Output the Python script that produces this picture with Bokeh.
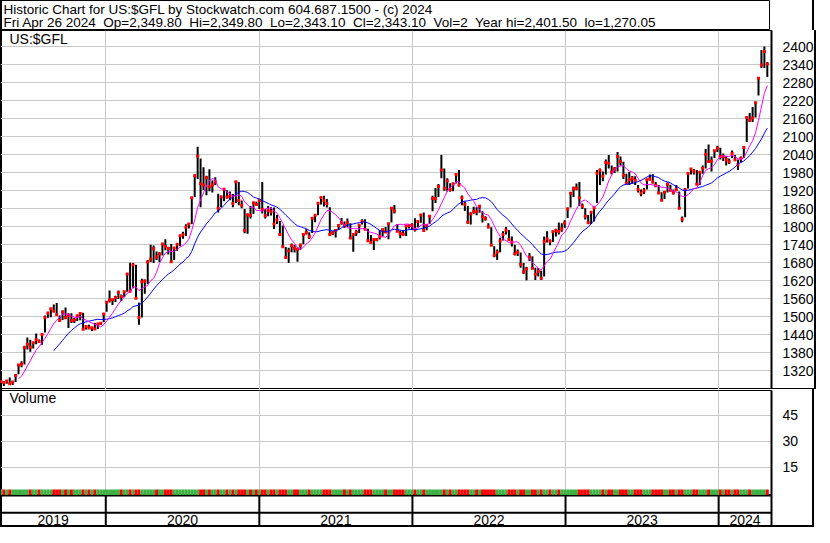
import pandas as pd
from bokeh.plotting import figure
from bokeh.layouts import column
from bokeh.models import Range1d, FixedTicker, Label, Span
from bokeh.embed import file_html
from bokeh.resources import INLINE
from bokeh.core.properties import value

# ---------------- data ----------------
symbol = "US:$GFL"
title_line1 = "Historic Chart for US:$GFL by Stockwatch.com 604.687.1500 - (c) 2024"
title_line2 = ("Fri Apr 26 2024\u00a0 Op=2,349.80\u00a0 Hi=2,349.80\u00a0 Lo=2,343.10\u00a0 "
               "Cl=2,343.10\u00a0 Vol=2\u00a0 Year hi=2,401.50\u00a0 lo=1,270.05")
volume_title = "Volume"
first_week = "2019-04-26"          # weekly bars (Fridays)
view_start = "2019-04-25"
view_end = "2024-05-06"
years = [2019, 2020, 2021, 2022, 2023, 2024]
price_ticks = [1320, 1380, 1440, 1500, 1560, 1620, 1680, 1740, 1800, 1860,
               1920, 1980, 2040, 2100, 2160, 2220, 2280, 2340, 2400]
volume_ticks = [15, 30, 45]

close_2019 = [1285, 1281, 1286, 1277, 1283, 1305, 1340, 1342, 1397, 1409, 1399, 1414,
              1425, 1418, 1441, 1497, 1513, 1527, 1520, 1507, 1488, 1516, 1497, 1505,
              1488, 1490, 1504, 1511, 1459, 1468, 1463, 1464, 1460, 1476, 1479, 1510]
high_2019 = [1286, 1286, 1290, 1298, 1286, 1306, 1342, 1352, 1404, 1431, 1424, 1416,
             1445, 1425, 1443, 1505, 1515, 1530, 1541, 1546, 1505, 1521, 1531, 1512,
             1512, 1497, 1506, 1513, 1514, 1472, 1474, 1465, 1480, 1477, 1481, 1511]
low_2019 = [1271, 1270, 1277, 1276, 1273, 1283, 1309, 1332, 1341, 1391, 1384, 1395,
            1409, 1414, 1407, 1448, 1497, 1499, 1515, 1506, 1488, 1490, 1493, 1463,
            1480, 1480, 1486, 1489, 1459, 1458, 1463, 1453, 1460, 1460, 1473, 1482]

close_2020 = [1549, 1556, 1557, 1565, 1582, 1568, 1584, 1643, 1586, 1673, 1562, 1498, 1617,
              1620, 1683, 1693, 1727, 1700, 1710, 1743, 1735, 1728, 1684, 1730, 1742, 1771,
              1774, 1799, 1810, 1897, 1971, 2036, 1944, 1940, 1964, 1934, 1940, 1950, 1862,
              1900, 1926, 1900, 1902, 1878, 1951, 1888, 1872, 1788, 1840, 1839, 1881, 1875]
high_2020 = [1552, 1588, 1560, 1571, 1587, 1575, 1585, 1644, 1681, 1680, 1674, 1547, 1627,
             1625, 1690, 1741, 1738, 1718, 1716, 1744, 1759, 1734, 1743, 1731, 1746, 1771,
             1784, 1809, 1813, 1899, 1975, 2067, 2028, 1999, 1971, 1992, 1955, 1966, 1911,
             1905, 1926, 1922, 1918, 1910, 1951, 1950, 1888, 1860, 1845, 1870, 1881, 1884]
low_2020 = [1517, 1548, 1540, 1550, 1560, 1553, 1566, 1584, 1586, 1596, 1562, 1474, 1498,
            1577, 1610, 1683, 1680, 1690, 1683, 1705, 1722, 1708, 1684, 1690, 1720, 1736,
            1761, 1770, 1795, 1810, 1900, 1960, 1866, 1923, 1906, 1919, 1915, 1940, 1848,
            1866, 1886, 1895, 1889, 1866, 1880, 1872, 1862, 1779, 1777, 1828, 1843, 1870]

close_2021 = [1888, 1858, 1837, 1856, 1851, 1810, 1823, 1775, 1734, 1698, 1720, 1738, 1729,
              1726, 1739, 1775, 1781, 1768, 1829, 1839, 1879, 1898, 1887, 1878, 1775, 1781,
              1788, 1805, 1815, 1804, 1814, 1763, 1775, 1782, 1806, 1818, 1792, 1754, 1748,
              1758, 1758, 1768, 1791, 1783, 1811, 1862, 1853, 1786, 1778, 1776, 1803, 1805, 1806]
high_2021 = [1891, 1950, 1860, 1870, 1866, 1865, 1840, 1820, 1805, 1733, 1731, 1745, 1741,
             1731, 1745, 1780, 1792, 1782, 1833, 1840, 1880, 1902, 1904, 1893, 1866, 1786,
             1791, 1808, 1830, 1818, 1828, 1812, 1775, 1790, 1808, 1826, 1826, 1794, 1773,
             1762, 1763, 1790, 1795, 1800, 1811, 1864, 1873, 1810, 1788, 1788, 1803, 1808, 1812]
low_2021 = [1860, 1845, 1828, 1836, 1838, 1793, 1810, 1770, 1730, 1698, 1680, 1716, 1715,
            1684, 1724, 1742, 1775, 1760, 1780, 1816, 1839, 1875, 1868, 1865, 1773, 1773,
            1765, 1790, 1807, 1797, 1800, 1760, 1717, 1770, 1780, 1808, 1792, 1754, 1745,
            1723, 1752, 1758, 1768, 1780, 1759, 1815, 1845, 1786, 1762, 1771, 1770, 1795, 1790]

close_2022 = [1792, 1818, 1840, 1788, 1805, 1836, 1895, 1895, 1935, 1990, 1929, 1954, 1925,
              1943, 1975, 1940, 1897, 1876, 1816, 1843, 1852, 1851, 1869, 1834, 1828, 1801,
              1739, 1706, 1716, 1753, 1775, 1789, 1758, 1749, 1711, 1716, 1675, 1650, 1660,
              1699, 1662, 1642, 1652, 1629, 1751, 1760, 1752, 1784, 1788, 1785, 1794, 1813]
high_2022 = [1829, 1822, 1843, 1848, 1808, 1840, 1904, 1930, 1943, 2040, 1995, 1962, 1946,
             1948, 1980, 1990, 1905, 1885, 1870, 1849, 1867, 1866, 1869, 1852, 1836, 1812,
             1799, 1736, 1725, 1764, 1786, 1800, 1790, 1768, 1741, 1725, 1715, 1680, 1667,
             1713, 1702, 1664, 1663, 1654, 1768, 1786, 1758, 1787, 1794, 1815, 1812, 1822]
low_2022 = [1785, 1799, 1814, 1788, 1789, 1810, 1852, 1880, 1900, 1962, 1921, 1918, 1917,
            1919, 1945, 1935, 1872, 1853, 1811, 1808, 1844, 1839, 1847, 1815, 1821, 1795,
            1739, 1699, 1690, 1716, 1755, 1775, 1758, 1735, 1705, 1703, 1664, 1643, 1622,
            1686, 1662, 1623, 1635, 1623, 1635, 1748, 1739, 1750, 1768, 1775, 1784, 1797]

close_2023 = [1860, 1912, 1927, 1929, 1897, 1869, 1836, 1814, 1849, 1863, 1979, 1989, 1969,
              2015, 2012, 1983, 1993, 2035, 2018, 1972, 1946, 1957, 1962, 1955, 1925, 1913,
              1921, 1957, 1960, 1950, 1938, 1913, 1889, 1916, 1942, 1922, 1914, 1925, 1862,
              1826, 1924, 1978, 1993, 1986, 1942, 1982, 1996, 2042, 2018, 2020, 2054, 2062]
high_2023 = [1865, 1915, 1935, 1945, 1950, 1878, 1862, 1840, 1852, 1868, 1990, 1995, 1985,
             2025, 2040, 2005, 2000, 2050, 2035, 2017, 1977, 1983, 1970, 1969, 1940, 1925,
             1930, 1961, 1975, 1976, 1950, 1940, 1916, 1918, 1948, 1941, 1925, 1940, 1918,
             1835, 1930, 1980, 1995, 1993, 1990, 1985, 2005, 2060, 2075, 2035, 2054, 2071]
low_2023 = [1830, 1865, 1900, 1922, 1870, 1860, 1825, 1810, 1810, 1818, 1880, 1940, 1952,
            1975, 1995, 1975, 1980, 1985, 2005, 1960, 1942, 1940, 1945, 1940, 1915, 1902,
            1910, 1925, 1955, 1945, 1932, 1912, 1889, 1893, 1915, 1918, 1908, 1920, 1859,
            1816, 1832, 1928, 1975, 1975, 1942, 1940, 1977, 1995, 2015, 1985, 2030, 2050]

close_2024 = [2035, 2035, 2024, 2017, 2045, 2024, 2007, 2029, 2065, 2165, 2156, 2163, 2214,
              2296, 2340, 2385, 2343]
high_2024 = [2064, 2045, 2036, 2028, 2055, 2040, 2025, 2035, 2065, 2170, 2180, 2200, 2214,
             2296, 2390, 2401.5, 2350]
low_2024 = [2025, 2020, 2005, 2010, 2030, 2020, 1990, 2015, 2030, 2083, 2150, 2150, 2165,
            2238, 2330, 2330, 2300]

volume = [2, 2, 2, 2, 2, 2, 2, 2, 2, 2, 2, 2, 2, 2, 2, 2, 2, 2, 2, 2, 2, 2, 2, 2, 2, 2,
          2, 2, 2, 2, 2, 2, 2, 2, 2, 2, 2, 2, 2, 2, 2, 2, 2, 2, 2, 2, 2, 2, 2, 2, 2, 2,
          2, 2, 2, 2, 2, 2, 2, 2, 2, 2, 2, 2, 2, 2, 2, 2, 2, 2, 2, 2, 2, 2, 2, 2, 2, 2,
          2, 2, 2, 2, 2, 2, 2, 2, 2, 2, 2, 2, 2, 2, 2, 2, 2, 2, 2, 2, 2, 2, 2, 2, 2, 2,
          2, 2, 2, 2, 2, 2, 2, 2, 2, 2, 2, 2, 2, 2, 2, 2, 2, 2, 2, 2, 2, 2, 2, 2, 2, 2,
          2, 2, 2, 2, 2, 2, 2, 2, 2, 2, 2, 2, 2, 2, 2, 2, 2, 2, 2, 2, 2, 2, 2, 2, 2, 2,
          2, 2, 2, 2, 2, 2, 2, 2, 2, 2, 2, 2, 2, 2, 2, 2, 2, 2, 2, 2, 2, 2, 2, 2, 2, 2,
          2, 2, 2, 2, 2, 2, 2, 2, 2, 2, 2, 2, 2, 2, 2, 2, 2, 2, 2, 2, 2, 2, 2, 2, 2, 2,
          2, 2, 2, 2, 2, 2, 2, 2, 2, 2, 2, 2, 2, 2, 2, 2, 2, 2, 2, 2, 2, 2, 2, 2, 2, 2,
          2, 2, 2, 2, 2, 2, 2, 2, 2, 2, 2, 2, 2, 2, 2, 2, 2, 2, 2, 2, 2, 2, 2, 2, 2, 2,
          2, 2]

ma_fast_weeks = 7
ma_slow_weeks = 19

# ---------------- assemble ----------------
close = close_2019 + close_2020 + close_2021 + close_2022 + close_2023 + close_2024
high = high_2019 + high_2020 + high_2021 + high_2022 + high_2023 + high_2024
low = low_2019 + low_2020 + low_2021 + low_2022 + low_2023 + low_2024
dates = pd.date_range(first_week, periods=len(close), freq="W-FRI")
ma_fast = pd.Series(close).rolling(ma_fast_weeks).mean()
ma_slow = pd.Series(close).rolling(ma_slow_weeks).mean()
vol_colors = ["#3cb043" if i == 0 or close[i] >= close[i - 1] else "#ff0000"
              for i in range(len(close))]

FONT = "Liberation Sans"
FS = "14px"
W = 814
FRAME_W = 771
RIGHT_W = W - FRAME_W
GRID = "#c8c8c8"
WEEK_MS = 7 * 24 * 3600 * 1000

vs = pd.Timestamp(view_start)
ve = pd.Timestamp(view_end)
year_starts = [pd.Timestamp(f"{y}-01-01") for y in years[1:]]
year_starts_ms = [t.value // 10**6 for t in year_starts]
year_centers = []
for y in years:
    a = max(vs, pd.Timestamp(f"{y}-01-01"))
    b = min(ve, pd.Timestamp(f"{y + 1}-01-01"))
    year_centers.append(a + (b - a) / 2)

xr = Range1d(start=vs, end=ve)


def base(shadow, **kw):
    f = figure(toolbar_location=None, output_backend="svg", title=None,
               styles={"box-shadow": shadow, "background-color": "white"}, **kw)
    f.min_border_left = 0
    f.min_border_bottom = 0
    f.background_fill_color = None
    f.border_fill_color = None
    return f


def style_right_axis(f, ticks):
    f.yaxis.ticker = FixedTicker(ticks=ticks)
    f.yaxis.major_label_text_font = FONT
    f.yaxis.major_label_text_font_size = FS
    f.yaxis.major_label_text_color = "black"
    f.yaxis.major_tick_line_color = None
    f.yaxis.minor_tick_line_color = None
    f.yaxis.major_label_standoff = 5
    f.yaxis.axis_line_color = "black"
    f.yaxis.axis_line_width = 2
    f.ygrid.ticker = FixedTicker(ticks=ticks)
    f.ygrid.grid_line_color = GRID
    f.xgrid.ticker = FixedTicker(ticks=year_starts_ms)
    f.xgrid.grid_line_color = GRID


SIDES = "inset 2px 0 0 0 black, inset -2px 0 0 0 black"

# header
hdr = base(SIDES, width=W, height=30, x_range=(0, 1), y_range=(0, 1),
           x_axis_location=None, y_axis_location=None, min_border=0)
hdr.grid.visible = False
hdr.outline_line_color = "black"
hdr.outline_line_width = 1
hdr.add_layout(Label(x=3, y=21.5, x_units="screen", y_units="screen", text=title_line1,
                     text_baseline="middle", text_font=FONT, text_font_size="13.5px",
                     text_color="black"))
hdr.add_layout(Label(x=3, y=8.5, x_units="screen", y_units="screen", text=title_line2,
                     text_baseline="middle", text_font=FONT, text_font_size="13.5px",
                     text_color="black"))

# price panel
p = base(SIDES + ", inset 0 -1px 0 0 black",
         frame_width=FRAME_W, frame_height=359, x_range=xr, x_axis_type="datetime",
         y_range=Range1d(1258, 2455), x_axis_location=None, y_axis_location="right",
         min_border_right=RIGHT_W, min_border_top=0)
p.outline_line_color = "black"
p.outline_line_width = 1
style_right_axis(p, price_ticks)

p.segment(x0=dates, y0=low, x1=dates, y1=high, line_color="black", line_width=2)
p.scatter(x=dates, y=close, marker="square", size=3, fill_color="#ff0000",
          line_color=None)
p.line(x=dates, y=ma_slow, line_color="#0000ff", line_width=1)
p.line(x=dates, y=ma_fast, line_color="#ff00ff", line_width=1)
p.add_layout(Label(x=9, y=343, x_units="screen", y_units="screen", text=symbol,
                   text_font=FONT, text_font_size=FS, text_color="black"))

# volume panel
v = base(SIDES, frame_width=FRAME_W, frame_height=105, x_range=xr, x_axis_type="datetime",
         y_range=Range1d(-1.5, 59.5), x_axis_location=None, y_axis_location="right",
         min_border_right=RIGHT_W, min_border_top=1)
v.outline_line_color = "black"
v.outline_line_width = 1
style_right_axis(v, volume_ticks)
v.vbar(x=dates, top=volume, bottom=v.y_range.start, width=WEEK_MS,
       fill_color=vol_colors, line_color=None)
v.add_layout(Label(x=9, y=90, x_units="screen", y_units="screen", text=volume_title,
                   text_font=FONT, text_font_size=FS, text_color="black"))

# date band
b = base(SIDES + ", inset 0 -2px 0 0 black",
         frame_width=FRAME_W, frame_height=32, x_range=xr, x_axis_type="datetime",
         y_range=Range1d(0, 2), x_axis_location=None, y_axis_location=None,
         min_border_right=RIGHT_W, min_border_top=0)
b.grid.visible = False
b.outline_line_color = "black"
b.outline_line_width = 2
b.segment(x0=year_starts, y0=b.y_range.start, x1=year_starts, y1=b.y_range.end,
          line_color="black", line_width=2)
b.add_layout(Span(location=0.92, dimension="width", line_color="black", line_width=2))
b.text(x=year_centers, y=[0.45] * len(years), text=[str(y) for y in years],
       text_align="center", text_baseline="middle", text_font=value(FONT),
       text_font_size=FS, text_color="black")

layout = column(hdr, p, v, b, spacing=0)

open("out.html", "w").write(file_html(layout, INLINE))
